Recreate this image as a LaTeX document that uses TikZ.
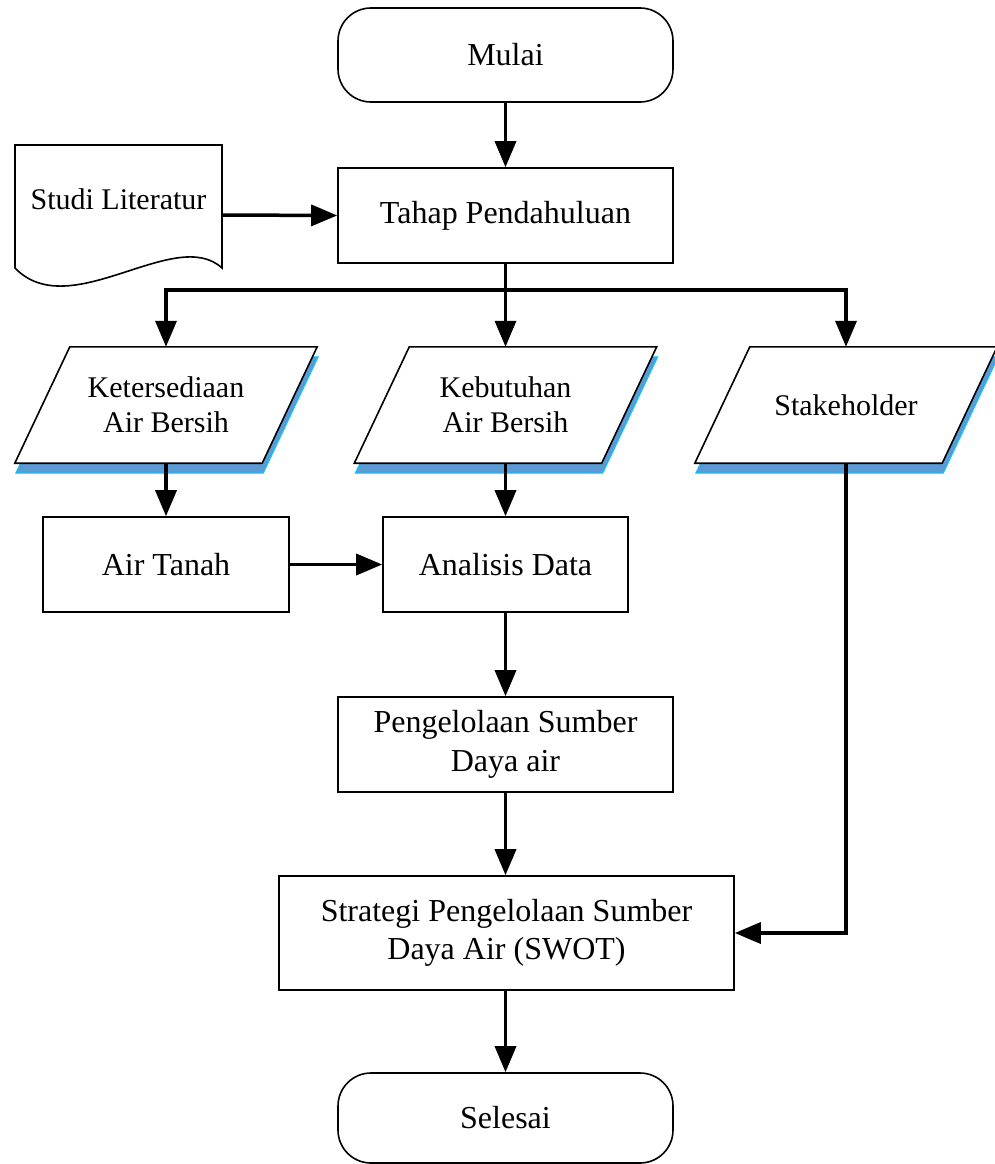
\documentclass[tikz,border=0pt]{standalone}
\usepackage{fontspec}
\setmainfont{Liberation Serif}
\usetikzlibrary{arrows.meta,backgrounds}
\definecolor{shblue}{RGB}{91,155,213}
\definecolor{shcyan}{RGB}{0,200,255}
\tikzset{
  base/.style={draw=black, line width=1.6pt, fill=white, align=center, inner sep=0pt,
    font=\fontsize{32}{38.5}\selectfont},
  term/.style={base, rounded corners=33pt, minimum width=335pt, minimum height=94pt},
  proc/.style={base, rectangle, minimum height=95pt},
  io/.style={rectangle, align=center, inner sep=0pt, minimum width=247pt, minimum height=116pt,
    font=\fontsize{30}{35}\selectfont},
  ioshape/.style={draw=black, line width=1.6pt, fill=white},
  ioshadow/.style={fill=shblue, draw=shcyan, line width=1pt},
  conn/.style={line width=3.5pt, -{Triangle[length=26pt,width=21pt]}},
  line/.style={line width=3.5pt}
}
\newcommand{\paragram}[1]{%
  \begin{scope}[on background layer]
    \path[ioshadow] ([xshift=-26.5pt,yshift=-10pt]#1.south west) -- ([xshift=-26.5pt,yshift=-10pt]#1.south east)
      -- ([xshift=28.5pt,yshift=-10pt]#1.north east) -- ([xshift=28.5pt,yshift=-10pt]#1.north west) -- cycle;
    \path[ioshape] ([xshift=-27.5pt]#1.south west) -- ([xshift=-27.5pt]#1.south east)
      -- ([xshift=27.5pt]#1.north east) -- ([xshift=27.5pt]#1.north west) -- cycle;
  \end{scope}}
\begin{document}
\begin{tikzpicture}[x=1pt,y=-1pt]
\useasboundingbox (0,0) rectangle (995,1164);
% terminators and processes
\node[term] (start) at (505.5,55) {Mulai};
\node[proc, minimum width=335pt] (tahap) at (505.5,215.5) {Tahap Pendahuluan};
% document shape
\node[minimum width=207pt, minimum height=140pt, inner sep=0pt] (lit) at (118.5,215) {};
\draw[line width=1.6pt, fill=white] (15,268) -- (15,145) -- (222,145) -- (222,268)
  .. controls (175,225) and (70,325) .. (15,268) -- cycle;
\node[font=\fontsize{30}{35}\selectfont] (littext) at (118.5,199) {Studi Literatur};
% inputs
\node[io] (p1) at (166,405) {Ketersediaan\\Air Bersih};
\node[io] (p2) at (505.5,405) {Kebutuhan\\Air Bersih};
\node[io] (p3) at (846,405) {Stakeholder};
\paragram{p1}
\paragram{p2}
\paragram{p3}
% processes
\node[proc, minimum width=246pt] (airtanah) at (166,564.5) {Air Tanah};
\node[proc, minimum width=245pt] (analisis) at (505.5,564.5) {Analisis Data};
\node[proc, minimum width=335pt] (kelola) at (505.5,744.5) {Pengelolaan Sumber\\Daya air};
\node[proc, minimum width=455pt, minimum height=114pt] (strategi) at (506.5,933) {Strategi Pengelolaan Sumber\\Daya Air (SWOT)};
\node[term, minimum height=90pt] (selesai) at (505.5,1118) {Selesai};
% connectors
\coordinate (j) at (505.5,290);
\draw[conn] (start.south) -- (tahap.north);
\draw[conn] (lit.east) -- (tahap.west);
\draw[line] (tahap.south) -- (j);
\draw[conn] (j) -- (p2.north);
\draw[conn] ([xshift=1.75pt]j) -| (p1.north);
\draw[conn] ([xshift=-1.75pt]j) -| (p3.north);
\draw[conn] (p1.south) -- (airtanah.north);
\draw[conn] (p2.south) -- (analisis.north);
\draw[conn] (airtanah.east) -- (analisis.west);
\draw[conn] (analisis.south) -- (kelola.north);
\draw[conn] (kelola.south) -- (kelola.south |- strategi.north);
\draw[conn] (p3.south) |- (strategi.east);
\draw[conn] (strategi.south -| selesai.north) -- (selesai.north);
\end{tikzpicture}
\end{document}
